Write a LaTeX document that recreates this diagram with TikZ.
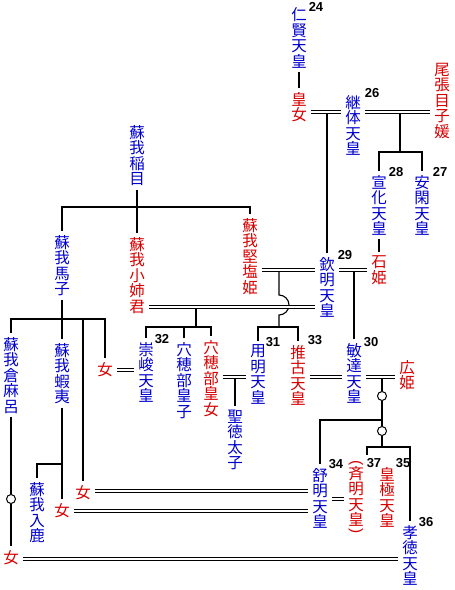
\documentclass[tikz,border=0pt]{standalone}
\usepackage{fontspec}
\newfontfamily\jp{Noto Sans CJK JP}
\newfontfamily\numfont{Liberation Sans}
\usepackage{tikz}
\usetikzlibrary{positioning, calc}
\definecolor{tblue}{RGB}{0,0,205}
\definecolor{tred}{RGB}{215,0,0}

\begin{document}
\begin{tikzpicture}[x=1pt,y=-1pt,line width=1.1pt,draw=black]
	\def \rowtop{111.5}
	\def \rowkin{270}
	\def \rowgen{376.5}
	\tikzstyle{b-node}=[text=tblue,font=\jp\fontsize{15.5}{15.5}\selectfont,align=center,anchor=north,inner sep=0pt,outer sep=4pt]
	\tikzstyle{r-node}=[b-node,text=tred]
	\tikzstyle{n-node}=[font=\numfont\bfseries\fontsize{13}{13}\selectfont,inner sep=0pt]
	\tikzstyle{fufu}=[double,double distance=2pt,line width=1pt]
	\tikzstyle{maru}=[circle,draw,fill=white,inner sep=0pt,minimum size=9pt,line width=1pt]
	\useasboundingbox (0,0) rectangle (455,590);

	% emperors and consorts
	\node[b-node] (ninken)   at (299,4)   {仁\\賢\\天\\皇};
	\node[r-node] (koujo)    at (299,88)  {皇\\女};
	\node[b-node] (keitai)   at (353,91)  {継\\体\\天\\皇};
	\node[r-node] (owari)    at (442,59)  {尾\\張\\目\\子\\媛};
	\node[b-node] (senka)    at (379,171) {宣\\化\\天\\皇};
	\node[b-node] (ankan)    at (422,171) {安\\閑\\天\\皇};
	\node[r-node] (ishihime) at (379,252) {石\\姫};
	\node[b-node] (kinmei)   at (327,253) {欽\\明\\天\\皇};

	% soga
	\node[b-node] (iname)    at (137,121) {蘇\\我\\稲\\目};
	\node[b-node] (umako)    at (62,231)  {蘇\\我\\馬\\子};
	\node[r-node] (oane)     at (137,233) {蘇\\我\\小\\姉\\君};
	\node[r-node] (kitashi)  at (250,214) {蘇\\我\\堅\\塩\\姫};
	\node[b-node] (kuramaro) at (11,333)  {蘇\\我\\倉\\麻\\呂};
	\node[b-node] (emishi)   at (62,339)  {蘇\\我\\蝦\\夷};
	\node[b-node] (iruka)    at (37,478)  {蘇\\我\\入\\鹿};
	\node[r-node] (onna1)    at (105,358) {女};
	\node[r-node] (onna2)    at (83,481)  {女};
	\node[r-node] (onna3)    at (62,499)  {女};
	\node[r-node] (onna4)    at (11,546)  {女};

	% children of kinmei
	\node[b-node] (sushun)    at (146,338) {崇\\峻\\天\\皇};
	\node[b-node] (anahobe-m) at (184,338) {穴\\穂\\部\\皇\\子};
	\node[r-node] (anahobe-f) at (211,336) {穴\\穂\\部\\皇\\女};
	\node[b-node] (youmei)    at (258,341) {用\\明\\天\\皇};
	\node[b-node] (shotoku)   at (235,406) {聖\\徳\\太\\子};
	\node[r-node] (suiko)     at (298,341) {推\\古\\天\\皇};
	\node[b-node] (bidatsu)   at (354,339) {敏\\達\\天\\皇};
	\node[r-node] (hirohime)  at (407,356) {広\\姫};

	% next generation
	\node[b-node] (jomei)   at (320,464) {舒\\明\\天\\皇};
	\node[r-node] (saimei)  at (356,456) {{\numfont\rotatebox{-90}{(}}\\斉\\明\\天\\皇\\[-13pt]{\numfont\rotatebox{-90}{)}}};
	\node[r-node] (kogyoku) at (387,463) {皇\\極\\天\\皇};
	\node[b-node] (kotoku)  at (410,521) {孝\\徳\\天\\皇};

	% numbers
	\node[n-node] (n24) at (316,7)   {24};
	\node[n-node] (n26) at (372,93)  {26};
	\node[n-node] (n27) at (440,172) {27};
	\node[n-node] (n28) at (396,172) {28};
	\node[n-node] (n29) at (345,255) {29};
	\node[n-node] (n30) at (371,342) {30};
	\node[n-node] (n31) at (273,342) {31};
	\node[n-node] (n32) at (162,339) {32};
	\node[n-node] (n33) at (315,340) {33};
	\node[n-node] (n34) at (336,464) {34};
	\node[n-node] (n35) at (403,463) {35};
	\node[n-node] (n36) at (426,522) {36};
	\node[n-node] (n37) at (374,463) {37};

	% joints
	\coordinate (k1)  at (327,\rowtop);
	\coordinate (k2)  at (400,\rowtop);
	\coordinate (b2)  at (400,152);
	\coordinate (k4)  at (354,269.5);
	\coordinate (k5)  at (279,\rowkin);
	\coordinate (b6)  at (279,327);
	\coordinate (k6)  at (196,306.5);
	\coordinate (b7)  at (196,327);
	\coordinate (b1)  at (137,207);
	\coordinate (b4)  at (62,319);
	\coordinate (b5)  at (62,464);
	\coordinate (k7)  at (124,370);
	\coordinate (k8)  at (235,\rowgen);
	\coordinate (k9)  at (325,\rowgen);
	\coordinate (k10) at (382,\rowgen);
	\coordinate (b8)  at (382,420);
	\coordinate (b9)  at (382,447);
	\coordinate (b10) at (367,455);
	\coordinate (k11) at (200,490.5);
	\coordinate (k12) at (200,510.5);
	\coordinate (k13) at (337,498.5);
	\coordinate (k14) at (200,558.5);
	\node[maru] (c1) at (382,396) {};
	\node[maru] (c2) at (382,431) {};
	\node[maru] (c3) at (11,499)  {};

	% descent
	\draw (ninken) -- (koujo);
	\draw (k1) -- (kinmei);
	\draw (k2) -- (b2);
	\draw (senka) |- (b2) -| (ankan);
	\draw (senka) -- (ishihime);
	\draw (k4) -- (bidatsu);
	\draw (iname) -- (b1);
	\draw (umako) |- (b1) -| (kitashi);
	\draw (b1) -- (oane);
	\draw (k5) -- ++(0,25) arc[start angle=90,end angle=-90,radius=10pt] -- (b6);
	\draw (youmei) |- (b6) -| (suiko);
	\draw (k6) -- (b7);
	\draw (sushun) |- (b7) -| (anahobe-f);
	\draw (anahobe-m) -- (anahobe-m |- b7);
	\draw (umako) -- (emishi);
	\draw (kuramaro) |- (b4) -| (onna1);
	\draw (onna2) |- (b4);
	\draw (emishi) -- (onna3);
	\draw (iruka) |- (b5);
	\draw (kuramaro) -- (c3) -- (onna4);
	\draw (k8) -- (shotoku);
	\draw (k10) -- (c1) -- (c2) -- (b9);
	\draw (jomei) |- (b8);
	\draw (kotoku) |- (b9) -| (b10);

	% marriages
	\path
		(koujo.east |- k1)      edge[fufu] (keitai.west |- k1)
		(keitai.east |- k2)     edge[fufu] (owari.west |- k2)
		(kinmei.east |- k4)     edge[fufu] (ishihime.west |- k4)
		(kitashi.east |- k5)    edge[fufu] (kinmei.west |- k5)
		(oane.east |- k6)       edge[fufu] (kinmei.west |- k6)
		(onna1.east |- k7)      edge[fufu] (sushun.west |- k7)
		(anahobe-f.east |- k8)  edge[fufu] (youmei.west |- k8)
		(suiko.east |- k9)      edge[fufu] (bidatsu.west |- k9)
		(bidatsu.east |- k10)   edge[fufu] (hirohime.west |- k10)
		(onna2.east |- k11)     edge[fufu] (jomei.west |- k11)
		(onna3.east |- k12)     edge[fufu] (jomei.west |- k12)
		(jomei.east |- k13)     edge[fufu] (saimei.west |- k13)
		(onna4.east |- k14)     edge[fufu] (kotoku.west |- k14);
\end{tikzpicture}
\end{document}
